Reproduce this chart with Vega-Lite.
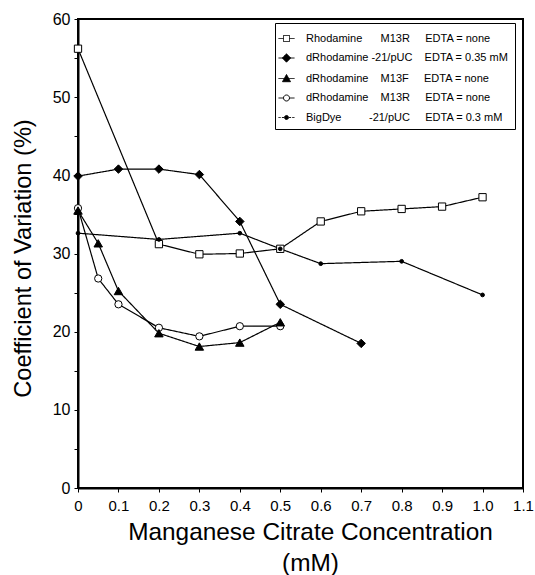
{
  "$schema": "https://vega.github.io/schema/vega-lite/v6.json",
  "autosize": {"type": "none"},
  "width": 445,
  "height": 469,
  "padding": {"left": 78, "top": 19, "right": 12, "bottom": 87},
  "background": "white",
  "config": {
    "font": "Liberation Sans",
    "view": {"stroke": "black", "strokeWidth": 2},
    "axis": {"grid": false, "domainColor": "black", "domainWidth": 2, "tickColor": "black", "tickWidth": 1, "tickSize": 4, "labelColor": "black", "titleColor": "black", "labelFont": "Liberation Sans", "titleFont": "Liberation Sans", "titleFontWeight": "normal", "labelFontSize": 15, "titleFontSize": 24.4}
  },
  "data": {"values": [
    {"series": "Rhodamine M13R", "x": 0, "cv": 56.2},
    {"series": "Rhodamine M13R", "x": 0.2, "cv": 31.2},
    {"series": "Rhodamine M13R", "x": 0.3, "cv": 29.9},
    {"series": "Rhodamine M13R", "x": 0.4, "cv": 30.0},
    {"series": "Rhodamine M13R", "x": 0.5, "cv": 30.6},
    {"series": "Rhodamine M13R", "x": 0.6, "cv": 34.1},
    {"series": "Rhodamine M13R", "x": 0.7, "cv": 35.4},
    {"series": "Rhodamine M13R", "x": 0.8, "cv": 35.7},
    {"series": "Rhodamine M13R", "x": 0.9, "cv": 36.0},
    {"series": "Rhodamine M13R", "x": 1.0, "cv": 37.2},
    {"series": "dRhodamine -21/pUC", "x": 0, "cv": 39.9},
    {"series": "dRhodamine -21/pUC", "x": 0.1, "cv": 40.8},
    {"series": "dRhodamine -21/pUC", "x": 0.2, "cv": 40.8},
    {"series": "dRhodamine -21/pUC", "x": 0.3, "cv": 40.1},
    {"series": "dRhodamine -21/pUC", "x": 0.4, "cv": 34.1},
    {"series": "dRhodamine -21/pUC", "x": 0.5, "cv": 23.5},
    {"series": "dRhodamine -21/pUC", "x": 0.7, "cv": 18.5},
    {"series": "dRhodamine M13F", "x": 0, "cv": 35.5},
    {"series": "dRhodamine M13F", "x": 0.05, "cv": 31.3},
    {"series": "dRhodamine M13F", "x": 0.1, "cv": 25.2},
    {"series": "dRhodamine M13F", "x": 0.2, "cv": 19.8},
    {"series": "dRhodamine M13F", "x": 0.3, "cv": 18.1},
    {"series": "dRhodamine M13F", "x": 0.4, "cv": 18.6},
    {"series": "dRhodamine M13F", "x": 0.5, "cv": 21.2},
    {"series": "dRhodamine M13R", "x": 0, "cv": 35.8},
    {"series": "dRhodamine M13R", "x": 0.05, "cv": 26.8},
    {"series": "dRhodamine M13R", "x": 0.1, "cv": 23.5},
    {"series": "dRhodamine M13R", "x": 0.2, "cv": 20.5},
    {"series": "dRhodamine M13R", "x": 0.3, "cv": 19.4},
    {"series": "dRhodamine M13R", "x": 0.4, "cv": 20.7},
    {"series": "dRhodamine M13R", "x": 0.5, "cv": 20.7},
    {"series": "BigDye -21/pUC", "x": 0, "cv": 32.6},
    {"series": "BigDye -21/pUC", "x": 0.2, "cv": 31.8},
    {"series": "BigDye -21/pUC", "x": 0.4, "cv": 32.6},
    {"series": "BigDye -21/pUC", "x": 0.5, "cv": 30.6},
    {"series": "BigDye -21/pUC", "x": 0.6, "cv": 28.7},
    {"series": "BigDye -21/pUC", "x": 0.8, "cv": 29.0},
    {"series": "BigDye -21/pUC", "x": 1.0, "cv": 24.7}
  ]},
  "encoding": {
    "x": {"field": "x", "type": "quantitative",
      "scale": {"domain": [0, 1.1], "nice": false, "zero": false},
      "axis": {"values": [0, 0.1, 0.2, 0.3, 0.4, 0.5, 0.6, 0.7, 0.8, 0.9, 1.0, 1.1],
        "labelExpr": "datum.value == 0 ? '0' : format(datum.value, '.1f')",
        "labelPadding": 6, "labelFlush": false, "labelOverlap": false,
        "title": ["Manganese Citrate Concentration", "(mM)"],
        "titleX": 232,
        "titlePadding": 7, "titleLineHeight": 31}},
    "y": {"field": "cv", "type": "quantitative",
      "scale": {"domain": [0, 60], "nice": false},
      "axis": {"values": [0, 5, 10, 15, 20, 25, 30, 35, 40, 45, 50, 55, 60],
        "labelExpr": "datum.value % 10 == 0 ? datum.value : ''",
        "labelFontSize": 16, "titleFontSize": 23.6, "titleY": 239,
        "labelPadding": 4, "labelFlush": false, "labelOverlap": false,
        "title": "Coefficient of Variation (%)", "titlePadding": 17}}
  },
  "layer": [
    {
      "mark": {"type": "line", "color": "black", "strokeWidth": 1.2},
      "encoding": {
        "strokeDash": {"field": "series", "type": "nominal",
          "scale": {"domain": ["Rhodamine M13R", "dRhodamine -21/pUC", "dRhodamine M13F", "dRhodamine M13R", "BigDye -21/pUC"],
            "range": [[1, 0], [1, 0], [1, 0], [1, 0], [1, 0]]},
          "legend": {
            "orient": "none", "legendX": 197, "legendY": 4, "title": "\u00a0",
            "titleFontSize": 2, "titlePadding": 2,
            "padding": 6, "strokeColor": "black", "fillColor": "white",
            "symbolSize": 64, "labelOffset": 14, "rowPadding": 7.5,
            "symbolStrokeColor": "black", "symbolStrokeWidth": 1, "symbolOpacity": 1,
            "labelFont": "Liberation Sans", "labelFontSize": 11, "labelLimit": 400, "labelColor": "black",
            "labelExpr": "datum.value === 'Rhodamine M13R' ? 'Rhodamine\u00a0\u00a0\u00a0\u00a0\u00a0\u00a0M13R\u00a0\u00a0\u00a0\u00a0\u00a0EDTA = none' : datum.value === 'dRhodamine -21/pUC' ? 'dRhodamine\u00a0-21/pUC\u00a0\u00a0\u00a0\u00a0EDTA = 0.35 mM' : datum.value === 'dRhodamine M13F' ? 'dRhodamine\u00a0\u00a0\u00a0\u00a0M13F\u00a0\u00a0\u00a0\u00a0\u00a0EDTA = none' : datum.value === 'dRhodamine M13R' ? 'dRhodamine\u00a0\u00a0\u00a0\u00a0M13R\u00a0\u00a0\u00a0\u00a0\u00a0EDTA = none' : 'BigDye\u00a0\u00a0\u00a0\u00a0\u00a0\u00a0\u00a0\u00a0\u00a0-21/pUC\u00a0\u00a0\u00a0\u00a0\u00a0EDTA = 0.3 mM'",
            "encode": {"symbols": {"update": {
              "shape": {"signal": "datum.value === 'Rhodamine M13R' ? 'M-2,0H-0.75M0.75,0H2M-0.75,-0.75H0.75V0.75H-0.75Z' : datum.value === 'dRhodamine -21/pUC' ? 'M-2,0H2M0,-1.05L1.05,0L0,1.05L-1.05,0Z' : datum.value === 'dRhodamine M13F' ? 'M-2,0H2M0,-1L1,0.8H-1Z' : datum.value === 'dRhodamine M13R' ? 'M-2,0H-0.75M0.75,0H2M0.75,0A0.75,0.75,0,1,1,-0.75,0A0.75,0.75,0,1,1,0.75,0Z' : 'M-2,0H-1.45M-1.15,0H-0.6M0.6,0H1.15M1.45,0H2M0.5,0A0.5,0.5,0,1,1,-0.5,0A0.5,0.5,0,1,1,0.5,0Z'"},
              "fill": {"signal": "(datum.value === 'Rhodamine M13R' || datum.value === 'dRhodamine M13R') ? 'white' : 'black'"},
              "stroke": {"value": "black"},
              "opacity": {"value": 1}
            }}}
          }}
      }
    },
    {
      "transform": [{"filter": {"field": "series", "equal": "Rhodamine M13R"}}],
      "mark": {"type": "point", "shape": "square", "stroke": "black", "strokeWidth": 1, "opacity": 1, "fillOpacity": 1, "size": 53, "fill": "white"},
      "encoding": {}
    },
    {
      "transform": [{"filter": {"field": "series", "equal": "dRhodamine M13R"}}],
      "mark": {"type": "point", "shape": "circle", "stroke": "black", "strokeWidth": 1, "opacity": 1, "fillOpacity": 1, "size": 53, "fill": "white"},
      "encoding": {}
    },
    {
      "transform": [{"filter": {"field": "series", "equal": "dRhodamine -21/pUC"}}],
      "mark": {"type": "point", "shape": "diamond", "stroke": "black", "strokeWidth": 1, "opacity": 1, "fillOpacity": 1, "size": 72, "fill": "black"},
      "encoding": {}
    },
    {
      "transform": [{"filter": {"field": "series", "equal": "dRhodamine M13F"}}],
      "mark": {"type": "point", "shape": "triangle-up", "stroke": "black", "strokeWidth": 1, "opacity": 1, "fillOpacity": 1, "size": 72, "fill": "black"},
      "encoding": {}
    },
    {
      "transform": [{"filter": {"field": "series", "equal": "BigDye -21/pUC"}}],
      "mark": {"type": "point", "shape": "circle", "stroke": "black", "strokeWidth": 1, "opacity": 1, "fillOpacity": 1, "size": 14, "fill": "black"},
      "encoding": {}
    }
  ]
}
